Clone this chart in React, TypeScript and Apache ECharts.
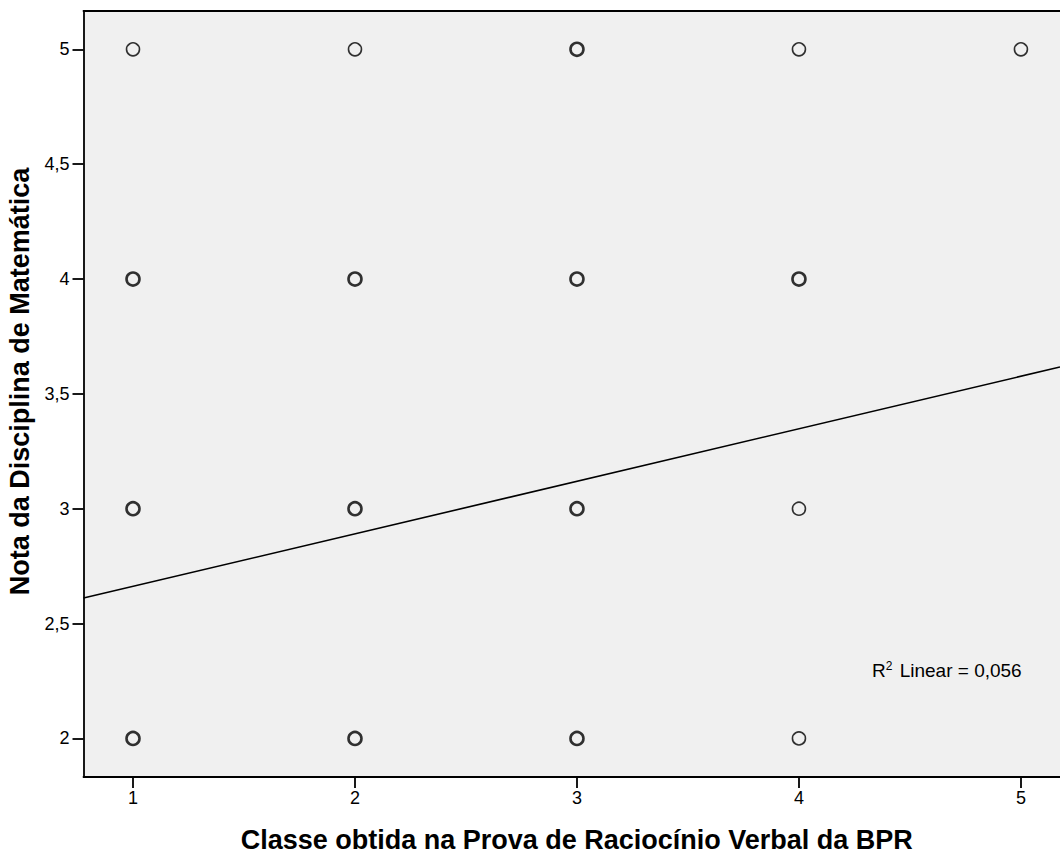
import React, { useEffect, useRef } from "react";
import * as echarts from "echarts";

// Scatter points: class (x), grade (y), and overlap count (bolder circle when > 1)
const pointX = [1, 1, 1, 1, 2, 2, 2, 2, 3, 3, 3, 3, 4, 4, 4, 4, 5];
const pointY = [5, 4, 3, 2, 5, 4, 3, 2, 5, 4, 3, 2, 5, 4, 3, 2, 5];
const pointCount = [1, 3, 3, 3, 1, 3, 3, 3, 3, 3, 3, 3, 1, 3, 1, 1, 1];

// Linear fit line (read at the plot edges)
const fitX = [0.777, 5.176];
const fitY = [2.611, 3.617];

const xTicks = [1, 2, 3, 4, 5];
const yTicks = [2, 2.5, 3, 3.5, 4, 4.5, 5];

const X_MIN = 0.777;
const X_MAX = 5.176;
const Y_MIN = 1.832;
const Y_MAX = 5.167;

const fmt = (v: number) => String(v).replace(".", ",");

export default function App() {
  const ref = useRef<HTMLDivElement>(null);
  useEffect(() => {
    if (!ref.current) return;
    const chart = echarts.init(ref.current, undefined, { renderer: "svg" });
    const font = "'Liberation Sans', Arial, sans-serif";
    const scatterData = pointX.map((x, i) => ({
      value: [x, pointY[i]],
      itemStyle: { borderWidth: pointCount[i] > 1 ? 2.6 : 1.6 },
    }));
    chart.setOption({
      animation: false,
      textStyle: { fontFamily: font },
      grid: {
        left: 83.5,
        top: 11,
        right: 0,
        bottom: 82,
        show: true,
        backgroundColor: "#f0f0f0",
        borderWidth: 0,
        containLabel: false,
        outerBoundsMode: "none",
      },
      xAxis: [
        {
          type: "value",
          min: X_MIN,
          max: X_MAX,
          position: "bottom",
          splitLine: { show: false },
          axisLine: { show: true, lineStyle: { color: "#000", width: 1.8 } },
          axisTick: {
            show: true,
            length: 11,
            lineStyle: { color: "#000", width: 1.8 },
            customValues: xTicks,
          },
          axisLabel: {
            color: "#000",
            fontSize: 18,
            margin: 12,
            fontFamily: font,
            customValues: xTicks,
            formatter: (v: number) => fmt(v),
          },
          name: "Classe obtida na Prova de Raciocínio Verbal da BPR",
          nameLocation: "middle",
          nameGap: 49,
          nameTextStyle: {
            color: "#000",
            fontSize: 27,
            fontWeight: "bold",
            fontFamily: font,
            verticalAlign: "top",
            padding: [0, 0, 0, 10],
          },
        },
        {
          type: "value",
          min: X_MIN,
          max: X_MAX,
          position: "top",
          splitLine: { show: false },
          axisLine: { show: true, lineStyle: { color: "#000", width: 1.8 } },
          axisTick: { show: false },
          axisLabel: { show: false },
        },
      ],
      yAxis: {
        type: "value",
        min: Y_MIN,
        max: Y_MAX,
        splitLine: { show: false },
        axisLine: { show: true, lineStyle: { color: "#000", width: 1.8 } },
        axisTick: {
          show: true,
          length: 11,
          lineStyle: { color: "#000", width: 1.8 },
          customValues: yTicks,
        },
        axisLabel: {
          color: "#000",
          fontSize: 18,
          margin: 14,
          fontFamily: font,
          customValues: yTicks,
          formatter: (v: number) => fmt(v),
        },
        name: "Nota da Disciplina de Matemática",
        nameLocation: "middle",
        nameGap: 48,
        nameTextStyle: {
          color: "#000",
          fontSize: 27,
          fontWeight: "bold",
          fontFamily: font,
          padding: [0, 0, 0, 25],
        },
      },
      series: [
        {
          type: "line",
          data: fitX.map((x, i) => [x, fitY[i]]),
          showSymbol: false,
          symbol: "none",
          lineStyle: { color: "#000", width: 1.6 },
          silent: true,
          z: 1,
        },
        {
          type: "scatter",
          data: scatterData,
          symbol: "circle",
          symbolSize: 13,
          itemStyle: { color: "#f0f0f0", borderColor: "#000" },
          z: 2,
        },
      ],
      graphic: [
        {
          type: "text",
          left: 872,
          top: 660,
          style: {
            text: "R{sup|2} Linear = 0,056",
            rich: {
              sup: { fontSize: 12, verticalAlign: "top", padding: [0, 2, 8, 0] },
            },
            fontSize: 19,
            fontFamily: font,
            fill: "#000",
          },
        },
      ],
    });
    return () => chart.dispose();
  }, []);
  return (
    <div
      ref={ref}
      style={{ position: "absolute", left: 0, top: 0, width: 1060, height: 859 }}
    />
  );
}
